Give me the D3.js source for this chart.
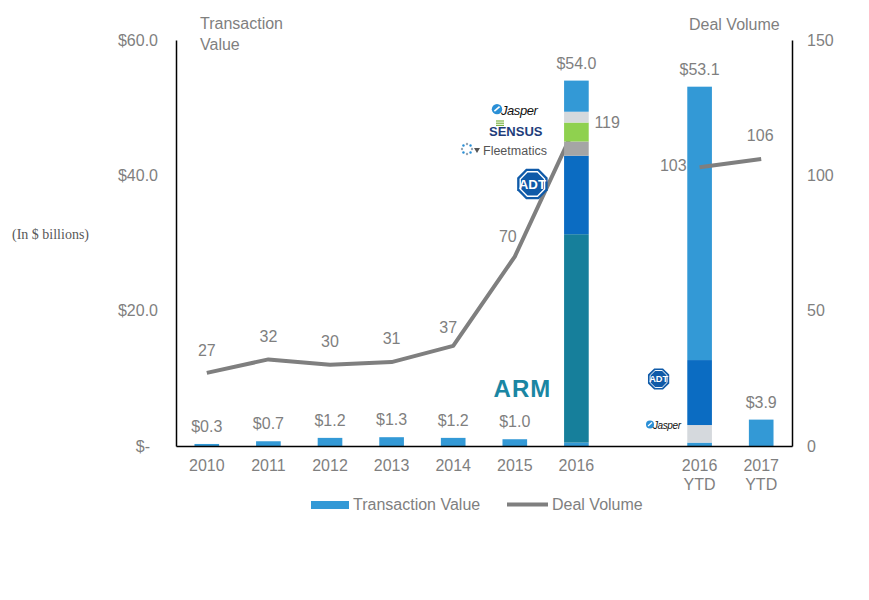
<!DOCTYPE html>
<html>
<head>
<meta charset="utf-8">
<script src="https://cdn.jsdelivr.net/npm/d3@7"></script>
<style>
    body { margin: 0; background: #fff; }
    text { font-family: "Liberation Sans", Arial, sans-serif; }
</style>
</head>
<body>
<div id="chart"></div>
<script>
// categories, "gap" is the empty slot between 2016 and the YTD bars
const categories = ["2010", "2011", "2012", "2013", "2014", "2015", "2016", "gap", "2016 YTD", "2017 YTD"];
const transactionValues = [0.3, 0.7, 1.2, 1.3, 1.2, 1.0, 54.0, null, 53.1, 3.9];
const dealVolumes = [27, 32, 30, 31, 37, 70, 119, null, 103, 106];

// stacked pieces of the two big bars (bottom to top)
const stack2016Keys = ["base", "ARM", "ADT", "Fleetmatics", "Sensus", "Jasper", "rest"];
const stack2016Values = [0.5, 30.8, 11.6, 2.1, 2.8, 1.6, 4.6];
const stackYtdKeys = ["base", "Jasper", "ADT", "rest"];
const stackYtdValues = [0.5, 2.6, 9.6, 40.4];

const leftTicks = [0, 20, 40, 60];
const rightTicks = [0, 50, 100, 150];

const segColors = {
    base: "#3399d6", rest: "#3399d6", ARM: "#167f9b", ADT: "#0b6cc2",
    Fleetmatics: "#a5a5a5", Sensus: "#8fd14f", Jasper: "#d5d9dd"
};
const barColor = "#3399d6";
const grey = "#7f7f7f";

const margin = { top: 40, right: 77, bottom: 154, left: 176 };
const width = 869 - margin.left - margin.right;
const height = 600 - margin.top - margin.bottom;

const root = d3.select("#chart").append("svg")
    .attr("width", 869)
    .attr("height", 600);

const svg = root.append("g")
    .attr("transform", "translate(" + margin.left + "," + margin.top + ")");

const x = d3.scaleBand()
    .domain(categories)
    .range([0, width])
    .paddingInner(0.6)
    .paddingOuter(0.3);

const yL = d3.scaleLinear().domain([0, 60]).range([height, 0]);
const yR = d3.scaleLinear().domain([0, 150]).range([height, 0]);

const cx = c => x(c) + x.bandwidth() / 2;

const rows = categories.map((c, i) => ({ cat: c, value: transactionValues[i], deals: dealVolumes[i] }));

// plain bars
const plain = rows.filter(d => d.value != null && d.cat !== "2016" && d.cat !== "2016 YTD");
svg.selectAll(".bar")
    .data(plain)
    .enter().append("rect")
    .attr("class", "bar")
    .attr("x", d => x(d.cat))
    .attr("y", d => yL(d.value))
    .attr("width", x.bandwidth())
    .attr("height", d => height - yL(d.value))
    .attr("fill", barColor);

function drawStack(cat, keys, values) {
    const tops = d3.cumsum(values);
    const segs = keys.map((k, i) => ({ key: k, y0: tops[i] - values[i], y1: tops[i] }));
    svg.append("g").selectAll("rect")
        .data(segs)
        .enter().append("rect")
        .attr("x", x(cat))
        .attr("y", d => yL(d.y1))
        .attr("width", x.bandwidth())
        .attr("height", d => yL(d.y0) - yL(d.y1))
        .attr("fill", d => segColors[d.key]);
}

drawStack("2016 YTD", stackYtdKeys, stackYtdValues);

// deal volume line (passes behind the 2016 bar, over the 2016 YTD bar)
const line = d3.line()
    .defined(d => d.deals != null)
    .x(d => cx(d.cat))
    .y(d => yR(d.deals));

svg.append("path")
    .datum(rows)
    .attr("d", line)
    .attr("fill", "none")
    .attr("stroke", grey)
    .attr("stroke-width", 4)
    .attr("stroke-linejoin", "round");

drawStack("2016", stack2016Keys, stack2016Values);

// value labels on bars
svg.selectAll(".vlabel")
    .data(rows.filter(d => d.value != null))
    .enter().append("text")
    .attr("class", "vlabel")
    .attr("x", d => cx(d.cat))
    .attr("y", d => yL(d.value) - 12)
    .attr("text-anchor", "middle")
    .attr("font-size", "16px")
    .attr("fill", grey)
    .text(d => "$" + d.value.toFixed(1));

// deal volume labels, offsets relative to the point
const dealOffsets = {
    "2010": [0, -17, "middle"], "2011": [0, -17, "middle"], "2012": [0, -18, "middle"],
    "2013": [0, -18, "middle"], "2014": [-5, -13, "middle"], "2015": [-7, -15, "middle"],
    "2016": [18, 4, "start"], "2016 YTD": [-13, 4, "end"], "2017 YTD": [-1, -18, "middle"]
};
svg.selectAll(".dlabel")
    .data(rows.filter(d => d.deals != null))
    .enter().append("text")
    .attr("class", "dlabel")
    .attr("x", d => cx(d.cat) + dealOffsets[d.cat][0])
    .attr("y", d => yR(d.deals) + dealOffsets[d.cat][1])
    .attr("text-anchor", d => dealOffsets[d.cat][2])
    .attr("font-size", "16px")
    .attr("fill", grey)
    .text(d => d.deals);

// axes
const leftAxis = svg.append("g")
    .call(d3.axisLeft(yL).tickValues(leftTicks).tickSize(0).tickSizeOuter(0).tickPadding(18)
        .tickFormat(d => d === 0 ? "$-" : "$" + d.toFixed(1)));
leftAxis.selectAll("text").attr("dx", d => d === 0 ? -8 : 0);

const rightAxis = svg.append("g")
    .attr("transform", "translate(" + width + ",0)")
    .call(d3.axisRight(yR).tickValues(rightTicks).tickSize(0).tickSizeOuter(0).tickPadding(15));

const bottomAxis = svg.append("g")
    .attr("transform", "translate(0," + height + ")")
    .call(d3.axisBottom(x).tickSize(0).tickSizeOuter(0).tickPadding(14));

bottomAxis.selectAll("text").each(function(d) {
    const t = d3.select(this).text("");
    if (d === "gap") return;
    d.split(" ").forEach((part, i) => {
        t.append("tspan")
            .attr("x", 0)
            .attr("dy", i === 0 ? "0.71em" : "1.15em")
            .text(part);
    });
});

[leftAxis, rightAxis, bottomAxis].forEach(a => {
    a.select(".domain").attr("stroke", "#000").attr("stroke-width", 1.5);
    a.selectAll("text")
        .attr("font-size", "16px")
        .attr("fill", grey)
        .attr("font-family", "'Liberation Sans', Arial, sans-serif");
});

// axis titles
root.append("text").attr("x", 200).attr("y", 29).attr("font-size", "16px").attr("fill", grey).text("Transaction");
root.append("text").attr("x", 200).attr("y", 50).attr("font-size", "16px").attr("fill", grey).text("Value");
root.append("text").attr("x", 689).attr("y", 30).attr("font-size", "16px").attr("fill", grey).text("Deal Volume");
root.append("text")
    .attr("x", 12).attr("y", 239)
    .attr("font-size", "14px")
    .attr("fill", "#595959")
    .style("font-family", "'Liberation Serif', 'Times New Roman', serif")
    .text("(In $ billions)");

// company logos
const logos = svg.append("g");
const c2016 = cx("2016");
const cYtd = cx("2016 YTD");

logos.append("text")
    .attr("x", c2016 - 54)
    .attr("y", yL(7.3))
    .attr("text-anchor", "middle")
    .attr("font-size", "24px")
    .attr("font-weight", "bold")
    .attr("letter-spacing", 1)
    .attr("fill", "#1a86a3")
    .text("ARM");

function adt(cxp, cyp, r) {
    const pts = d3.range(8).map(i => {
        const a = Math.PI / 8 + i * Math.PI / 4;
        return [cxp + r * Math.cos(a), cyp + r * Math.sin(a)];
    });
    const inner = pts.map(p => [cxp + (p[0] - cxp) * 0.8, cyp + (p[1] - cyp) * 0.8]);
    logos.append("polygon").attr("points", pts.join(" ")).attr("fill", "#0f5aa8");
    logos.append("polygon").attr("points", inner.join(" ")).attr("fill", "none")
        .attr("stroke", "#fff").attr("stroke-width", r / 12);
    logos.append("text")
        .attr("x", cxp).attr("y", cyp + r * 0.28)
        .attr("text-anchor", "middle")
        .attr("font-size", (r * 0.8) + "px")
        .attr("font-weight", "bold")
        .attr("fill", "#fff")
        .text("ADT");
}
adt(c2016 - 44 - margin.left + margin.left, 184 - margin.top, 16.5);
adt(cYtd - 41, 379 - margin.top, 11.5);

function jasper(px, py, size) {
    logos.append("circle").attr("cx", px).attr("cy", py - size * 0.45).attr("r", size * 0.4).attr("fill", "#2a8fd6");
    logos.append("path")
        .attr("d", `M${px - size * 0.2},${py - size * 0.3}L${px + size * 0.2},${py - size * 0.65}`)
        .attr("stroke", "#fff").attr("stroke-width", size * 0.12);
    logos.append("text")
        .attr("x", px + size * 0.3).attr("y", py)
        .attr("font-size", size + "px")
        .attr("font-style", "italic")
        .attr("letter-spacing", -0.4)
        .attr("fill", "#111")
        .text("Jasper");
}
jasper(497 - margin.left, 115 - margin.top, 13);
jasper(650 - margin.left, 429 - margin.top, 10);

// sensus
[0, 1, 2].forEach(i => {
    logos.append("line")
        .attr("x1", 496 - margin.left).attr("x2", 504 - margin.left)
        .attr("y1", 121 + i * 2.2 - margin.top).attr("y2", 121 + i * 2.2 - margin.top)
        .attr("stroke", "#7cb342").attr("stroke-width", 1.2);
});
logos.append("text")
    .attr("x", 489 - margin.left).attr("y", 136 - margin.top)
    .attr("font-size", "13px")
    .attr("font-weight", "bold")
    .attr("fill", "#1e3d7b")
    .text("SENSUS");

// fleetmatics
d3.range(8).forEach(i => {
    const a = i * Math.PI / 4;
    logos.append("circle")
        .attr("cx", 467 - margin.left + 5 * Math.cos(a))
        .attr("cy", 149 - margin.top + 5 * Math.sin(a))
        .attr("r", 1.2)
        .attr("fill", i % 2 ? "#2a8fd6" : "#9aa5b1");
});
logos.append("path")
    .attr("d", `M${474 - margin.left},${148 - margin.top}l6,0l-3,5z`)
    .attr("fill", "#555");
logos.append("text")
    .attr("x", 483 - margin.left).attr("y", 155 - margin.top)
    .attr("font-size", "12.5px")
    .attr("fill", "#555")
    .text("Fleetmatics");

// legend
const legend = root.append("g");
legend.append("rect").attr("x", 311).attr("y", 501).attr("width", 38).attr("height", 8).attr("fill", barColor);
legend.append("text").attr("x", 353).attr("y", 510).attr("font-size", "16px").attr("fill", grey).text("Transaction Value");
legend.append("line").attr("x1", 507).attr("x2", 548).attr("y1", 504.5).attr("y2", 504.5)
    .attr("stroke", grey).attr("stroke-width", 4);
legend.append("text").attr("x", 552).attr("y", 510).attr("font-size", "16px").attr("fill", grey).text("Deal Volume");
</script>
</body>
</html>
